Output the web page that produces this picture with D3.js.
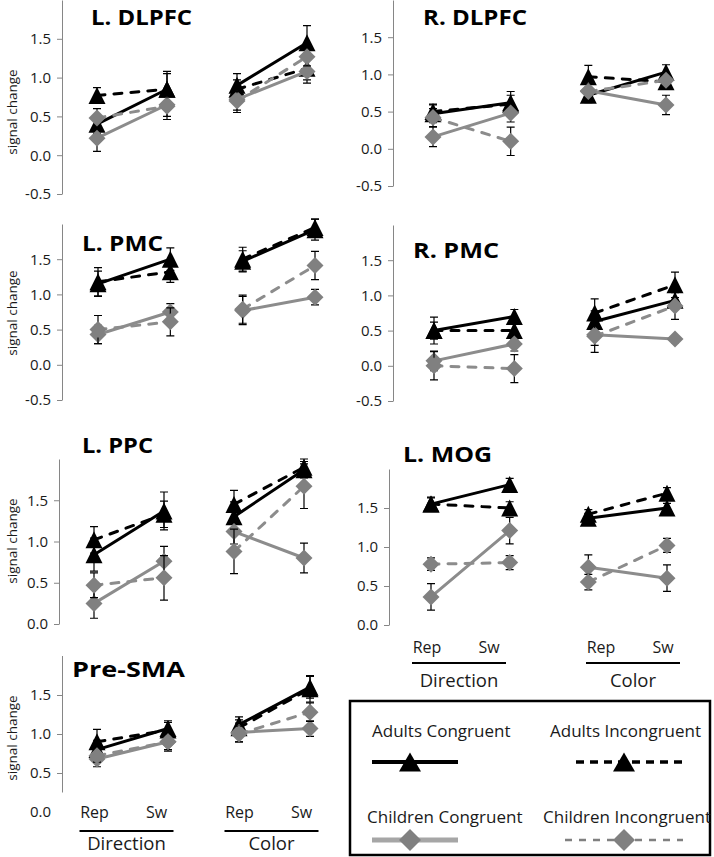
<!DOCTYPE html>
<html>
<head>
<meta charset="utf-8">
<script src="https://cdn.jsdelivr.net/npm/d3@7"></script>
<style>
  body { margin: 0; background: #fff; }
  svg text { font-family: "Open Sans", sans-serif; fill: #1a1a1a; }
</style>
</head>
<body>
<svg id="chart" width="714" height="857"></svg>
<script>
// categories on the x axis
const categories = ["Direction Rep", "Direction Sw", "Color Rep", "Color Sw"];
const groups = ["Direction", "Color"];
const conditions = ["Rep", "Sw"];
const seriesNames = ["Adults Congruent", "Adults Incongruent", "Children Congruent", "Children Incongruent"];
const ticksSigned = [-0.5, 0, 0.5, 1, 1.5];
const ticksPositive = [0, 0.5, 1, 1.5];

// rows: Adults Congruent, Adults Incongruent, Children Congruent, Children Incongruent
const lDlpfcMean = [[0.40, 0.85, 0.90, 1.45], [0.77, 0.85, 0.85, 1.12], [0.22, 0.65, 0.72, 1.08], [0.48, 0.63, 0.70, 1.27]];
const lDlpfcErr  = [[0.12, 0.23, 0.15, 0.22], [0.10, 0.20, 0.12, 0.15], [0.17, 0.15, 0.17, 0.15], [0.12, 0.17, 0.12, 0.12]];

const rDlpfcMean = [[0.47, 0.62, 0.72, 1.03], [0.50, 0.60, 0.97, 0.90], [0.16, 0.48, 0.78, 0.59], [0.42, 0.10, 0.77, 0.92]];
const rDlpfcErr  = [[0.12, 0.15, 0.10, 0.10], [0.10, 0.12, 0.15, 0.10], [0.13, 0.12, 0.10, 0.13], [0.12, 0.19, 0.10, 0.10]];

const lPmcMean = [[1.15, 1.50, 1.47, 1.92], [1.18, 1.32, 1.50, 1.95], [0.43, 0.75, 0.77, 0.96], [0.50, 0.61, 0.79, 1.41]];
const lPmcErr  = [[0.18, 0.16, 0.15, 0.15], [0.20, 0.15, 0.17, 0.12], [0.13, 0.12, 0.20, 0.11], [0.20, 0.20, 0.20, 0.20]];

const rPmcMean = [[0.50, 0.70, 0.63, 0.93], [0.50, 0.50, 0.75, 1.15], [0.07, 0.31, 0.44, 0.38], [0.00, -0.04, 0.42, 0.85]];
const rPmcErr  = [[0.12, 0.10, 0.15, 0.12], [0.19, 0.12, 0.20, 0.18], [0.14, 0.10, 0.15, 0.05], [0.20, 0.20, 0.23, 0.19]];

const lPpcMean = [[0.84, 1.37, 1.30, 1.87], [1.02, 1.33, 1.45, 1.90], [0.25, 0.76, 1.12, 0.80], [0.47, 0.56, 0.88, 1.67]];
const lPpcErr  = [[0.20, 0.23, 0.18, 0.10], [0.16, 0.16, 0.17, 0.10], [0.18, 0.18, 0.15, 0.18], [0.15, 0.27, 0.27, 0.27]];

const lMogMean = [[1.55, 1.80, 1.37, 1.50], [1.55, 1.50, 1.42, 1.69], [0.36, 1.21, 0.74, 0.60], [0.78, 0.80, 0.55, 1.02]];
const lMogErr  = [[0.09, 0.08, 0.06, 0.06], [0.08, 0.08, 0.06, 0.07], [0.17, 0.17, 0.16, 0.17], [0.08, 0.09, 0.10, 0.09]];

const preSmaMean = [[0.80, 1.07, 1.12, 1.60], [0.90, 1.05, 1.08, 1.58], [0.68, 0.90, 1.02, 1.07], [0.72, 0.90, 1.00, 1.28]];
const preSmaErr  = [[0.12, 0.10, 0.10, 0.14], [0.16, 0.10, 0.10, 0.17], [0.10, 0.12, 0.12, 0.10], [0.08, 0.10, 0.10, 0.12]];

const svg = d3.select("#chart");

// panel layout (tw = width the bold title is fitted to)
const panels = [
  { title: "L. DLPFC", mean: lDlpfcMean, err: lDlpfcErr, ax: 62, top: 0, bottom: 194, lo: -0.5, xr: [97, 307], tx: 91, ty: 25, tw: 101, yLab: 112 },
  { title: "R. DLPFC", mean: rDlpfcMean, err: rDlpfcErr, ax: 393, top: 0, bottom: 186, lo: -0.5, xr: [433, 666], tx: 423, ty: 25, tw: 104 },
  { title: "L. PMC", mean: lPmcMean, err: lPmcErr, ax: 62, top: 224, bottom: 400, lo: -0.5, xr: [98, 315], tx: 82, ty: 251, tw: 81, yLab: 313 },
  { title: "R. PMC", mean: rPmcMean, err: rPmcErr, ax: 393, top: 225, bottom: 401, lo: -0.5, xr: [434, 675], tx: 413, ty: 258, tw: 86 },
  { title: "L. PPC", mean: lPpcMean, err: lPpcErr, ax: 59, top: 459, bottom: 624, lo: 0, xr: [94, 304], tx: 82, ty: 453, tw: 71, yLab: 541 },
  { title: "L. MOG", mean: lMogMean, err: lMogErr, ax: 389, top: 469, bottom: 625, lo: 0, xr: [431, 667], tx: 403, ty: 462, tw: 89 },
  { title: "Pre-SMA", mean: preSmaMean, err: preSmaErr, ax: 62, top: 656, bottom: 812, lo: 0, xr: [97, 310], tx: 72, ty: 677, tw: 113, yLab: 738, axisEnd: 0.25 }
];

const triangle = (w, h) => `M0,${-h / 2}L${w / 2},${h / 2}L${-w / 2},${h / 2}Z`;
const diamond = (r) => `M0,${-r}L${r},0L0,${r}L${-r},0Z`;

const seriesStyle = [
  { stroke: "#000", dash: null, fill: "#000", marker: triangle(17, 17) },
  { stroke: "#000", dash: "8,9", fill: "#000", marker: triangle(17, 17) },
  { stroke: "#8c8c8c", dash: null, fill: "#808080", marker: diamond(8.5) },
  { stroke: "#8c8c8c", dash: "8,9", fill: "#808080", marker: diamond(8.5) }
];

panels.forEach(p => {
  const g = svg.append("g");
  const x = d3.scalePoint().domain(categories).range(p.xr);
  const y = d3.scaleLinear().domain([p.lo, 2]).range([p.bottom, p.top]);

  const yAxis = d3.axisLeft(y)
    .tickValues(p.lo < 0 ? ticksSigned : ticksPositive)
    .tickSizeInner(5)
    .tickSizeOuter(0)
    .tickPadding(6)
    .tickFormat(d => d.toFixed(1));

  const ag = g.append("g")
    .attr("transform", `translate(${p.ax},0)`)
    .call(yAxis);
  ag.selectAll("text").style("font-size", "15px").style("fill", "#1a1a1a");
  ag.selectAll("line, path").attr("stroke", "#868686");

  if (p.axisEnd !== undefined) {
    // this axis stops above zero; the 0.0 label stands alone
    ag.select(".domain").remove();
    ag.selectAll(".tick").filter(d => d === 0).select("line").remove();
    ag.append("line")
      .attr("x1", 0.5).attr("x2", 0.5)
      .attr("y1", y(2)).attr("y2", y(p.axisEnd))
      .attr("stroke", "#868686");
  }

  if (p.yLab !== undefined) {
    g.append("text")
      .attr("transform", `translate(17,${p.yLab}) rotate(-90)`)
      .attr("text-anchor", "middle")
      .style("font-size", "13.5px")
      .text("signal change");
  }

  g.append("text")
    .attr("x", p.tx)
    .attr("y", p.ty)
    .attr("textLength", p.tw)
    .attr("lengthAdjust", "spacingAndGlyphs")
    .style("font-size", "22px")
    .style("font-weight", "bold")
    .style("fill", "#000")
    .text(p.title);

  p.mean.forEach((vals, si) => {
    const st = seriesStyle[si];
    const pts = categories.map((c, i) => ({ c: c, v: vals[i], e: p.err[si][i] }));

    g.append("g")
      .attr("stroke", "#000")
      .attr("stroke-width", 1.2)
      .attr("fill", "none")
      .selectAll("path")
      .data(pts)
      .enter()
      .append("path")
      .attr("d", d => {
        const xx = x(d.c), y1 = y(d.v + d.e), y2 = y(d.v - d.e);
        return `M${xx},${y1}V${y2}M${xx - 4},${y1}H${xx + 4}M${xx - 4},${y2}H${xx + 4}`;
      });

    groups.forEach((gr, gi) => {
      g.append("path")
        .datum(pts.slice(gi * 2, gi * 2 + 2))
        .attr("fill", "none")
        .attr("stroke", st.stroke)
        .attr("stroke-width", 3)
        .attr("stroke-linecap", "round")
        .attr("stroke-dasharray", st.dash)
        .attr("d", d3.line().x(d => x(d.c)).y(d => y(d.v)));
    });

    g.append("g")
      .selectAll("path")
      .data(pts)
      .enter()
      .append("path")
      .attr("transform", d => `translate(${x(d.c)},${y(d.v)})`)
      .attr("d", st.marker)
      .attr("fill", st.fill);
  });
});

// category labels under the bottom panels
const labelRows = [
  { centers: [126.5, 271.5], ty: 818, ly: 831, gy: 850 },
  { centers: [459, 633], ty: 653, ly: 663, gy: 687 }
];
labelRows.forEach(r => {
  const gx = d3.scalePoint().domain(groups).range(r.centers);
  const lg = svg.append("g");
  groups.forEach(gr => {
    const c = gx(gr);
    const cx = d3.scalePoint().domain(conditions).range([c - 32, c + 30]);
    conditions.forEach(cd => {
      lg.append("text")
        .attr("x", cx(cd)).attr("y", r.ty)
        .attr("text-anchor", "middle")
        .style("font-size", "16px")
        .text(cd);
    });
    lg.append("line")
      .attr("x1", c - 47).attr("x2", c + 47)
      .attr("y1", r.ly).attr("y2", r.ly)
      .attr("stroke", "#000").attr("stroke-width", 2);
    lg.append("text")
      .attr("x", c).attr("y", r.gy)
      .attr("text-anchor", "middle")
      .style("font-size", "18.5px")
      .text(gr);
  });
});

// legend
const legend = svg.append("g");
legend.append("rect")
  .attr("x", 350).attr("y", 701)
  .attr("width", 360).attr("height", 154)
  .attr("fill", "none").attr("stroke", "#000").attr("stroke-width", 2.5);

const legendItems = [
  { tx: 372, ty: 737, lx: [372, 458], mx: 410, ly: 762, stroke: "#000", width: 4, dash: null, fill: "#000", marker: triangle(22, 19) },
  { tx: 550, ty: 737, lx: [576, 683], mx: 624, ly: 762, stroke: "#000", width: 3.5, dash: "8,6", fill: "#000", marker: triangle(22, 19) },
  { tx: 367, ty: 823, lx: [372, 458], mx: 410, ly: 840, stroke: "#a6a6a6", width: 5, dash: null, fill: "#808080", marker: diamond(11) },
  { tx: 543, ty: 823, lx: [565, 683], mx: 624, ly: 840, stroke: "#808080", width: 2.5, dash: "7,7", fill: "#808080", marker: diamond(11) }
];
legendItems.forEach((it, i) => {
  legend.append("text")
    .attr("x", it.tx).attr("y", it.ty)
    .style("font-size", "17px")
    .text(seriesNames[i]);
  legend.append("line")
    .attr("x1", it.lx[0]).attr("x2", it.lx[1])
    .attr("y1", it.ly).attr("y2", it.ly)
    .attr("stroke", it.stroke).attr("stroke-width", it.width)
    .attr("stroke-dasharray", it.dash);
  legend.append("path")
    .attr("transform", `translate(${it.mx},${it.ly})`)
    .attr("d", it.marker)
    .attr("fill", it.fill);
});
</script>
</body>
</html>
